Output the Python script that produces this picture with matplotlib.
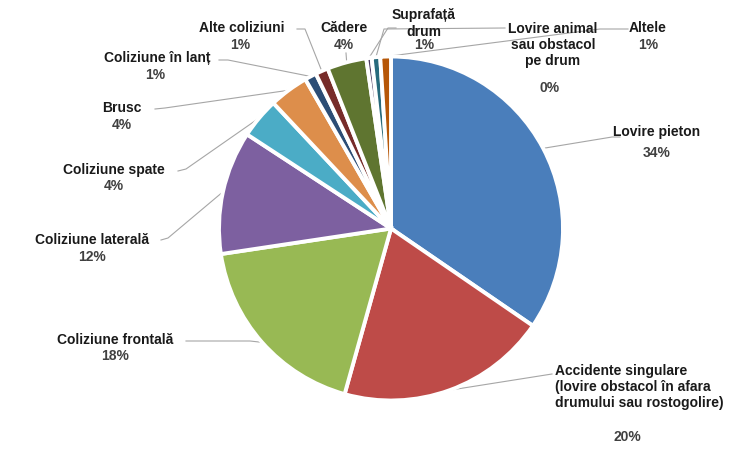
import numpy as np
import matplotlib
matplotlib.use("Agg")
import matplotlib.pyplot as plt

categories = ["Lovire pieton",
              "Accidente singulare\n(lovire obstacol în afara\ndrumului sau rostogolire)",
              "Coliziune frontală", "Coliziune laterală", "Coliziune spate", "Brusc",
              "Coliziune în lanț", "Alte coliziuni", "Cădere", "Suprafață\ndrum",
              "Lovire animal\nsau obstacol\npe drum", "Altele"]
values = [34.6, 19.8, 18.3, 11.6, 3.8, 3.7, 1.1, 1.2, 3.7, 0.5, 0.8, 1.0]
pct_labels = ["34%", "20%", "18%", "12%", "4%", "4%", "1%", "1%", "4%", "1%", "0%", "1%"]
colors = ["#4A7EBB", "#BE4B48", "#98B954", "#7D60A0", "#4BACC6", "#DD8E4B",
          "#2C4D75", "#772C2A", "#5F7530", "#4D3B62", "#276A7C", "#B65708"]

W, H = 756, 449
CX, CY, R = 391, 228.5, 172

fig = plt.figure(figsize=(W / 100, H / 100), dpi=100)
ax = fig.add_axes([(CX - R) / W, (H - CY - R) / H, 2 * R / W, 2 * R / H])
wedges, _ = ax.pie(values, colors=colors, startangle=90, counterclock=False,
                   radius=1.0, wedgeprops=dict(edgecolor="white", linewidth=2.8))
ax.set_xlim(-1, 1)
ax.set_ylim(-1, 1)
ax.axis("off")


def p2d(x, y):
    return ((x - CX) / R, (CY - y) / R)


def edge_point(w):
    mid = np.deg2rad((w.theta1 + w.theta2) / 2)
    return (np.cos(mid), np.sin(mid))


name_col = "#1a1a1a"
pct_col = "#404040"
fs = 10
font = "Liberation Sans"

# layout: (name pos px, name ha, pct pos px, leader path px)
layout = [
    ((657, 132), "center", (657, 153), [(620, 137), (612, 137)]),
    ((555, 387), "left", (627, 437), [(552, 374)]),
    ((115, 340), "center", (115, 356), [(186, 341), (250, 341)]),
    ((92, 240), "center", (92, 257), [(161, 240), (168, 238)]),
    ((114, 170), "center", (114, 186), [(178, 171), (186, 169)]),
    ((122, 108), "center", (122, 125), [(155, 109), (165, 108)]),
    ((157, 58), "center", (155, 75), [(219, 60), (228, 60)]),
    ((242, 28), "center", (240, 45), [(297, 29), (305, 29)]),
    ((344, 28), "center", (344, 45), [(346, 53)]),
    ((424, 23.5), "center", (424, 45), [(396, 28), (388, 28)]),
    ((553, 45), "center", (550, 88), [(505, 28), (384, 29)]),
    ((648, 28), "center", (648, 45), [(628, 29), (600, 29)]),
]

for w, name, pct, (npos, ha, ppos, path) in zip(wedges, categories, pct_labels, layout):
    nx, ny = p2d(*npos)
    ax.text(nx, ny, name, ha=ha, va="center", fontsize=fs, fontweight="bold",
            color=name_col, family=font, linespacing=1.2, clip_on=False,
            multialignment=ha)
    px_, py_ = p2d(*ppos)
    ax.text(px_, py_, pct, ha="center", va="center", fontsize=fs, fontweight="bold",
            color=pct_col, family=font, clip_on=False)
    pts = [p2d(*p) for p in path] + [edge_point(w)]
    xs, ys = zip(*pts)
    ax.plot(xs, ys, color="#a6a6a6", lw=0.8, clip_on=False, zorder=0)

fig.savefig("out.png", dpi=100)
